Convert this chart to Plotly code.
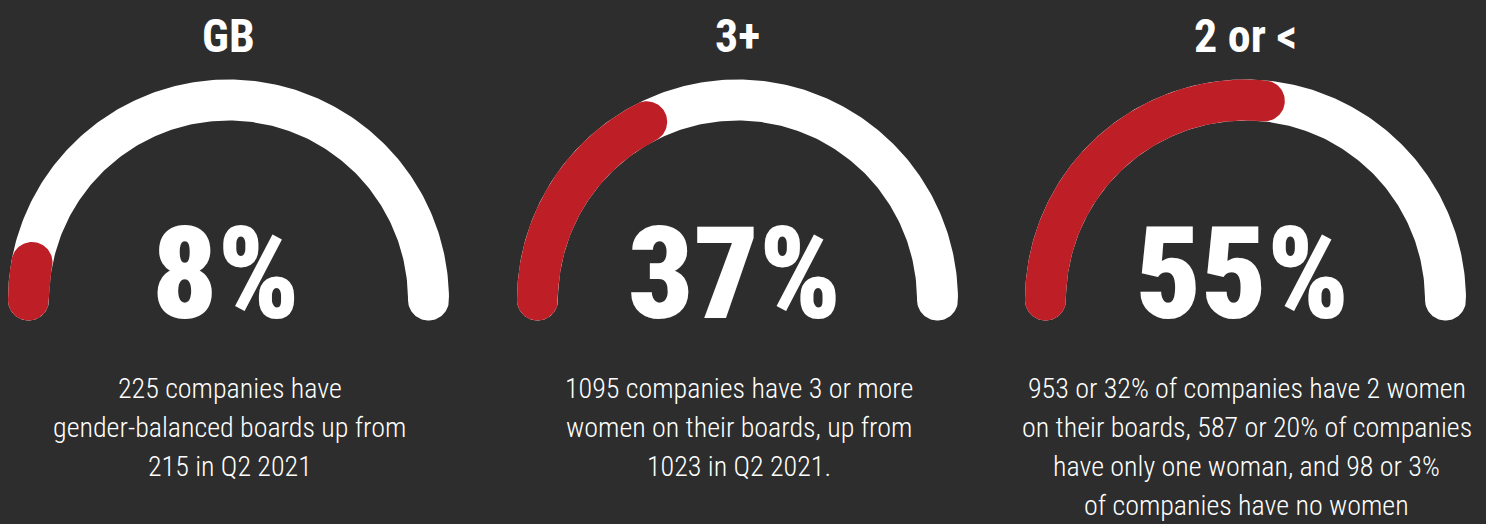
import numpy as np
import plotly.graph_objects as go

# ---- data ----
titles = ["GB", "3+", "2 or <"]
values = [8, 37, 55]          # percent
descriptions = [
    ["225 companies have", "gender-balanced boards up from", "215 in Q2 2021"],
    ["1095 companies have 3 or more", "women on their boards, up from", "1023 in Q2 2021."],
    ["953 or 32% of companies have 2 women", "on their boards, 587 or 20% of companies",
     "have only one woman, and 98 or 3%", "of companies have no women"],
]

# ---- style / layout ----
W, H = 1486, 524
BG = "#2d2d2d"
RED = "#be1f26"
WHITE = "#ffffff"
centers_x = [228.5, 737.5, 1245.5]
center_y = 300
R = 200.0
HW = 20.5
CAP_OFFSET = 3.6  # degrees
FONT = "Roboto Condensed, Open Sans Condensed, DejaVu Sans Condensed, sans-serif"


def band(cx, cy, a0, a1, n=200):
    th = np.radians(np.linspace(a0, a1, n))
    ox = cx - (R + HW) * np.cos(th)
    oy = cy - (R + HW) * np.sin(th)
    ix = cx - (R - HW) * np.cos(th[::-1])
    iy = cy - (R - HW) * np.sin(th[::-1])
    xs, ys = list(ox), list(oy)
    te = np.radians(a1)
    px, py = cx - R * np.cos(te), cy - R * np.sin(te)
    u = np.array([-np.cos(te), -np.sin(te)])
    t = np.array([np.sin(te), -np.cos(te)])
    for p in np.linspace(0, np.pi, 40):
        v = HW * (np.cos(p) * u + np.sin(p) * t)
        xs.append(px + v[0]); ys.append(py + v[1])
    xs += list(ix); ys += list(iy)
    ts = np.radians(a0)
    px, py = cx - R * np.cos(ts), cy - R * np.sin(ts)
    u = np.array([-np.cos(ts), -np.sin(ts)])
    t = np.array([np.sin(ts), -np.cos(ts)])
    for p in np.linspace(0, np.pi, 40):
        v = HW * (-np.cos(p) * u - np.sin(p) * t)
        xs.append(px + v[0]); ys.append(py + v[1])
    xs.append(xs[0]); ys.append(ys[0])
    return xs, ys


fig = go.Figure()
annotations = []
for i, (cx, title, val, desc) in enumerate(zip(centers_x, titles, values, descriptions)):
    xs, ys = band(cx, center_y, 0, 180)
    fig.add_trace(go.Scatter(x=xs, y=ys, fill="toself", fillcolor=WHITE,
                             line=dict(width=0, color=WHITE), mode="lines",
                             hoverinfo="skip", showlegend=False))
    end = val / 100 * 180 - CAP_OFFSET
    xs, ys = band(cx, center_y, 0, end)
    fig.add_trace(go.Scatter(x=xs, y=ys, fill="toself", fillcolor=RED,
                             line=dict(width=0, color=RED), mode="lines",
                             hoverinfo="skip", showlegend=False))
    annotations.append(dict(x=cx, y=36, text=title, showarrow=False,
                            font=dict(family=FONT, size=46, color=WHITE, weight=700),
                            xanchor="center", yanchor="middle"))
    annotations.append(dict(x=cx - 3, y=274, text=f"{val}%", showarrow=False,
                            font=dict(family=FONT, size=128, color=WHITE, weight=900),
                            xanchor="center", yanchor="middle"))
    for j, line in enumerate(desc):
        annotations.append(dict(x=cx + 1, y=388 + 39 * j, text=line, showarrow=False,
                                font=dict(family=FONT, size=28, color=WHITE, weight=300),
                                xanchor="center", yanchor="middle"))

fig.update_layout(
    width=W, height=H,
    margin=dict(l=0, r=0, t=0, b=0),
    paper_bgcolor=BG, plot_bgcolor=BG,
    xaxis=dict(range=[0, W], visible=False, fixedrange=True),
    yaxis=dict(range=[H, 0], visible=False, fixedrange=True),
    annotations=annotations,
    showlegend=False,
)
fig.write_html("out.html", config={"displayModeBar": False})
